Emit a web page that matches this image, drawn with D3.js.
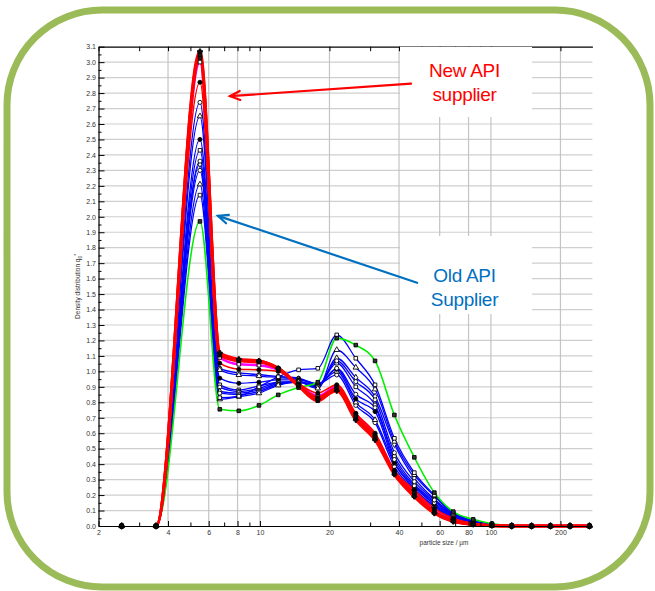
<!DOCTYPE html>
<html>
<head>
<meta charset="utf-8">
<script src="https://cdn.jsdelivr.net/npm/d3@7"></script>
<style>
  body { margin: 0; background: #fff; }
  svg { display: block; font-family: "Liberation Sans", Arial, sans-serif; }
</style>
</head>
<body>
<svg id="chart" width="655" height="591"></svg>
<script>
// particle size classes (µm)
const sizes = [2.52, 3.55, 5.5, 6.7, 8.1, 9.9, 12.0, 14.7, 17.8, 21.5, 26.0, 31.5, 38.2, 46.6, 56.9, 68.7, 83.8, 101, 123, 150, 181, 220, 267];

// density distribution q0* per batch
const green = [0, 0, 1.97, 0.755, 0.745, 0.78, 0.848, 0.895, 0.93, 1.215, 1.17, 1.068, 0.718, 0.444, 0.216, 0.093, 0.043, 0.015, 0.003, 0, 0, 0, 0];

const blue1 = [0, 0, 2.74, 1.02, 0.99, 0.98, 0.967, 0.956, 0.92, 0.977, 0.78, 0.668, 0.384, 0.233, 0.125, 0.045, 0.015, 0.003, 0, 0, 0, 0, 0];
const blue2 = [0, 0, 2.65, 1.01, 0.977, 0.97, 0.96, 0.95, 0.92, 0.999, 0.80, 0.686, 0.406, 0.24, 0.13, 0.05, 0.018, 0.004, 0, 0, 0, 0, 0];
const blue3 = [0, 0, 2.50, 0.956, 0.923, 0.93, 0.945, 0.945, 0.915, 1.014, 0.822, 0.74, 0.41, 0.254, 0.14, 0.055, 0.02, 0.005, 0, 0, 0, 0, 0];
const blue4 = [0, 0, 2.43, 0.913, 0.88, 0.906, 0.93, 0.934, 0.91, 1.053, 0.90, 0.783, 0.45, 0.27, 0.16, 0.065, 0.025, 0.008, 0, 0, 0, 0, 0];
const blue5 = [0, 0, 2.36, 0.859, 0.85, 0.87, 0.915, 0.93, 0.90, 1.068, 0.934, 0.816, 0.474, 0.287, 0.168, 0.07, 0.028, 0.008, 0, 0, 0, 0, 0];
const blue6 = [0, 0, 2.34, 0.87, 0.86, 0.88, 0.92, 0.93, 0.90, 1.085, 0.96, 0.837, 0.529, 0.31, 0.175, 0.075, 0.03, 0.01, 0, 0, 0, 0, 0];
const blue7 = [0, 0, 2.21, 0.82, 0.837, 0.859, 0.91, 0.93, 0.89, 1.139, 1.025, 0.884, 0.546, 0.33, 0.194, 0.08, 0.032, 0.01, 0.002, 0, 0, 0, 0];
const blue8 = [0, 0, 2.14, 0.83, 0.84, 0.90, 0.965, 1.01, 1.02, 1.236, 1.085, 0.913, 0.567, 0.345, 0.20, 0.085, 0.035, 0.012, 0.002, 0, 0, 0, 0];
const blue9 = [0, 0, 2.30, 0.898, 0.87, 0.89, 0.928, 0.934, 0.905, 1.02, 0.852, 0.765, 0.43, 0.26, 0.15, 0.06, 0.022, 0.006, 0, 0, 0, 0, 0];

const magenta = [0, 0, 3.00, 1.09, 1.046, 1.04, 1.01, 0.915, 0.84, 0.90, 0.72, 0.59, 0.352, 0.22, 0.10, 0.04, 0.013, 0.003, 0, 0, 0, 0, 0];
const red1 = [0, 0, 3.07, 1.12, 1.079, 1.068, 1.02, 0.913, 0.82, 0.874, 0.686, 0.557, 0.334, 0.19, 0.082, 0.028, 0.01, 0.002, 0, 0, 0, 0, 0];
const red2 = [0, 0, 3.05, 1.11, 1.068, 1.06, 1.015, 0.905, 0.81, 0.887, 0.70, 0.57, 0.34, 0.20, 0.088, 0.032, 0.011, 0.002, 0, 0, 0, 0, 0];
const red3 = [0, 0, 3.03, 1.105, 1.07, 1.065, 1.02, 0.91, 0.83, 0.89, 0.708, 0.578, 0.345, 0.21, 0.093, 0.035, 0.012, 0.003, 0, 0, 0, 0, 0];
const red4 = [0, 0, 2.87, 1.053, 1.014, 1.01, 1.0, 0.92, 0.86, 0.913, 0.729, 0.60, 0.36, 0.233, 0.114, 0.05, 0.016, 0.004, 0, 0, 0, 0, 0];

// axis ticks
const xMajor = [2, 4, 6, 8, 10, 20, 40, 60, 80, 100, 200];
const xMinor = [3, 5, 7, 9, 30, 50, 70, 90];
const yMajor = d3.range(0, 31).map(i => i / 10).concat([3.1]);
const yMinor = d3.range(0, 31).map(i => i / 10 + 0.05);

// style of each drawn series (drawing order: blue, green, magenta, red)
const series = [
    { values: blue1, color: "#0000ff", width: 1.3, symbol: d3.symbolCircle, fill: "#fff" },
    { values: blue2, color: "#0000ff", width: 1.3, symbol: d3.symbolTriangle, fill: "#fff" },
    { values: blue3, color: "#0000ff", width: 1.3, symbol: d3.symbolCircle, fill: "#000" },
    { values: blue4, color: "#0000ff", width: 1.3, symbol: d3.symbolSquare, fill: "#fff" },
    { values: blue9, color: "#0000ff", width: 1.3, symbol: d3.symbolCircle, fill: "#fff" },
    { values: blue6, color: "#0000ff", width: 1.3, symbol: d3.symbolDiamond, fill: "#fff" },
    { values: blue5, color: "#0000ff", width: 1.3, symbol: d3.symbolCircle, fill: "#fff" },
    { values: blue7, color: "#0000ff", width: 1.3, symbol: d3.symbolTriangle, fill: "#fff" },
    { values: blue8, color: "#0000ff", width: 1.3, symbol: d3.symbolSquare, fill: "#fff" },
    { values: green, color: "#00ee00", width: 1.6, symbol: d3.symbolSquare, fill: "#333" },
    { values: magenta, color: "#ff00ff", width: 2.6, symbol: d3.symbolSquare, fill: "#fff" },
    { values: red4, color: "#ff0000", width: 1.6, symbol: d3.symbolCircle, fill: "#000" },
    { values: red3, color: "#ff0000", width: 3, symbol: d3.symbolSquare, fill: "#222" },
    { values: red2, color: "#ff0000", width: 3, symbol: d3.symbolSquare, fill: "#222" },
    { values: red1, color: "#ff0000", width: 3, symbol: d3.symbolCross, fill: "#111" }
];

const svg = d3.select("#chart");

// green rounded frame
svg.append("rect")
    .attr("x", 7).attr("y", 10)
    .attr("width", 643).attr("height", 577)
    .attr("rx", 95).attr("ry", 95)
    .attr("fill", "#fff")
    .attr("stroke", "#9bbb59")
    .attr("stroke-width", 7);

const plotL = 98.5, plotR = 592.4, plotT = 46.7, plotB = 526;
const x = d3.scaleLog().domain([2, 275]).range([plotL, plotR]);
const y = d3.scaleLinear().domain([0, 3.1]).range([plotB, plotT]);

// grid
svg.append("g")
    .selectAll("line")
    .data(yMajor.filter(d => d > 0 && d < 3.1))
    .join("line")
    .attr("x1", plotL).attr("x2", plotR)
    .attr("y1", d => y(d)).attr("y2", d => y(d))
    .attr("stroke", "#cfcfcf").attr("stroke-width", 1.2);

svg.append("g")
    .selectAll("line")
    .data(xMajor.filter(d => d > 2))
    .join("line")
    .attr("x1", d => x(d)).attr("x2", d => x(d))
    .attr("y1", plotT).attr("y2", plotB)
    .attr("stroke", "#c4c4c4").attr("stroke-width", 1.2);

// curves: the empty first class shows only its marker, so clip from the second class
const clipL = x(sizes[1]);
svg.append("clipPath").attr("id", "plotClip")
    .append("rect")
    .attr("x", clipL).attr("y", plotT - 4)
    .attr("width", plotR - clipL).attr("height", plotB - plotT + 8);

const line = d3.line()
    .x((d, i) => x(sizes[i]))
    .y(d => y(d))
    .curve(d3.curveMonotoneX);

svg.append("g")
    .attr("clip-path", "url(#plotClip)")
    .selectAll("path")
    .data(series)
    .join("path")
    .attr("d", s => line(s.values))
    .attr("fill", "none")
    .attr("stroke", s => s.color)
    .attr("stroke-width", s => s.width)
    .attr("stroke-linejoin", "round");

// markers
series.forEach(s => {
    svg.append("g")
        .selectAll("path")
        .data(s.values)
        .join("path")
        .attr("transform", (d, i) => `translate(${x(sizes[i])},${y(d)})`)
        .attr("d", d3.symbol().type(s.symbol).size(13))
        .attr("fill", s.fill)
        .attr("stroke", "#000")
        .attr("stroke-width", 0.9);
});

// axes
const axisColor = "#000";
svg.append("g")
    .attr("transform", `translate(${plotL},0)`)
    .call(d3.axisLeft(y).tickValues(yMajor).tickSize(-6).tickSizeOuter(0)
        .tickPadding(2.5).tickFormat(d3.format(".1f")));
svg.append("g")
    .attr("transform", `translate(${plotL},0)`)
    .call(d3.axisLeft(y).tickValues(yMinor).tickSize(-3).tickSizeOuter(0).tickFormat(""))
    .select(".domain").remove();

svg.append("g")
    .attr("transform", `translate(0,${plotB})`)
    .call(d3.axisBottom(x).tickValues(xMajor).tickSize(-5).tickSizeOuter(0)
        .tickPadding(4).tickFormat(d => d));
svg.append("g")
    .attr("transform", `translate(0,${plotB})`)
    .call(d3.axisBottom(x).tickValues(xMinor).tickSize(-3.5).tickSizeOuter(0).tickFormat(""))
    .select(".domain").remove();

svg.append("g")
    .attr("transform", `translate(0,${plotT})`)
    .call(d3.axisTop(x).tickValues(xMajor.concat(xMinor)).tickSize(-4.5).tickSizeOuter(0).tickFormat(""));

svg.selectAll(".domain").attr("stroke", axisColor).attr("stroke-width", 1.2);
svg.selectAll(".tick line").attr("stroke", axisColor).attr("stroke-width", 1);
svg.selectAll(".tick text")
    .attr("font-size", 7)
    .attr("font-family", "Liberation Sans, Arial, sans-serif")
    .attr("fill", "#333");

// axis titles
const yTitle = svg.append("text")
    .attr("transform", `translate(80,${(plotT + plotB) / 2}) rotate(-90)`)
    .attr("text-anchor", "middle")
    .attr("font-size", 6.5)
    .attr("fill", "#333");
yTitle.append("tspan").text("Density distribution q");
yTitle.append("tspan").attr("font-size", 5).attr("dy", 1.5).text("0");
yTitle.append("tspan").attr("font-size", 5).attr("dy", -3.5).text("*");

svg.append("text")
    .attr("x", 444).attr("y", 545)
    .attr("text-anchor", "middle")
    .attr("font-size", 6.5)
    .attr("fill", "#333")
    .text("particle size / µm");

// annotations
const notes = [
    { lines: ["New API", "supplier"], color: "#ff0000", box: [400, 47, 132, 70], base: 76.7,
      tail: [45.1, 2.861], tip: [7.42, 2.78] },
    { lines: ["Old API", "Supplier"], color: "#0070c0", box: [400, 236, 132, 78], base: 281.7,
      tail: [47.9, 1.573], tip: [6.58, 2.006] }
];

notes.forEach(n => {
    svg.append("rect")
        .attr("x", n.box[0]).attr("y", n.box[1])
        .attr("width", n.box[2]).attr("height", n.box[3])
        .attr("fill", "#fff");
    n.lines.forEach((t, i) => {
        svg.append("text")
            .attr("x", 464.5).attr("y", n.base + i * 24)
            .attr("text-anchor", "middle")
            .attr("font-size", 19)
            .attr("letter-spacing", -0.3)
            .attr("fill", n.color)
            .text(t);
    });
    const x0 = x(n.tail[0]), y0 = y(n.tail[1]);
    const x1 = x(n.tip[0]), y1 = y(n.tip[1]);
    const a = Math.atan2(y0 - y1, x0 - x1);
    const len = 11, spread = 0.42;
    const g = svg.append("g")
        .attr("stroke", n.color)
        .attr("stroke-width", 2.2)
        .attr("stroke-linecap", "round")
        .attr("fill", "none");
    g.append("line").attr("x1", x0).attr("y1", y0).attr("x2", x1).attr("y2", y1);
    g.append("path")
        .attr("stroke-linejoin", "miter")
        .attr("d", `M${x1 + len * Math.cos(a - spread)},${y1 + len * Math.sin(a - spread)}` +
            `L${x1},${y1}L${x1 + len * Math.cos(a + spread)},${y1 + len * Math.sin(a + spread)}`);
});
</script>
</body>
</html>
